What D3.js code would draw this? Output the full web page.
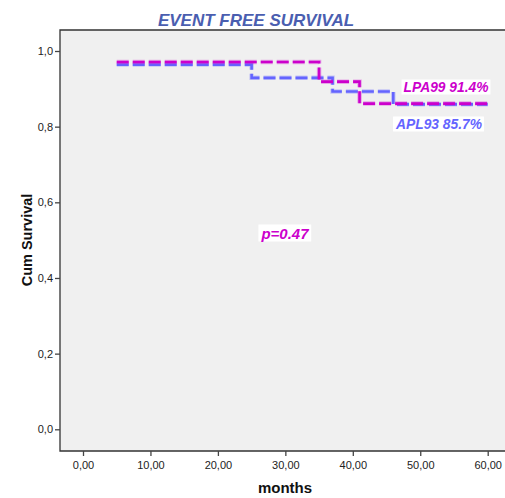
<!DOCTYPE html>
<html><head><meta charset="utf-8">
<script src="https://cdn.jsdelivr.net/npm/d3@7"></script>
<style>body{margin:0;background:#fff}svg{display:block}</style>
</head><body>
<svg id="c" width="505" height="498"></svg>
<script>
const title = "EVENT FREE SURVIVAL";
const xTicks = [0, 10, 20, 30, 40, 50, 60];
const yTicks = [0, 0.2, 0.4, 0.6, 0.8, 1.0];
const seriesNames = ["APL93", "LPA99"];
const seriesColors = ["#6464ff", "#cc00cc"];
const seriesLabels = ["APL93 85.7%", "LPA99 91.4%"];
// step points: [month, cumulative survival]
const apl93 = [[5, 0.964], [25, 0.929], [37, 0.893], [46, 0.859], [60, 0.859]];
const lpa99 = [[5, 0.971], [35, 0.919], [41, 0.861], [60, 0.861]];
const pText = "p=0.47";

const svg = d3.select("#c");
const L = 60, T = 30, R = 505, B = 451;
const x = d3.scaleLinear().domain([0, 60]).range([83, 487.7]);
const y = d3.scaleLinear().domain([0, 1]).range([429.3, 51]);
const font = "Arial, 'Liberation Sans', sans-serif";

svg.append("rect").attr("x", L).attr("y", T).attr("width", R - L).attr("height", B - T).attr("fill", "#f0f0f0");
svg.append("path").attr("d", `M${R},${T}H${L}V${B}H${R}`).attr("fill", "none").attr("stroke", "#333").attr("stroke-width", 1.3);

const xAxis = svg.append("g").attr("transform", `translate(0,${B})`)
  .call(d3.axisBottom(x).tickValues(xTicks).tickSize(5).tickPadding(5).tickFormat(d => d3.format(".2f")(d).replace(".", ",")));
const yAxis = svg.append("g").attr("transform", `translate(${L},0)`)
  .call(d3.axisLeft(y).tickValues(yTicks).tickSize(5).tickPadding(2).tickFormat(d => d3.format(".1f")(d).replace(".", ",")));
[xAxis, yAxis].forEach(a => {
  a.select(".domain").remove();
  a.selectAll("line").attr("stroke", "#444").attr("stroke-width", 1.3);
  a.selectAll("text").attr("fill", "#222").style("font-family", font).style("font-size", "11px");
});

const line = d3.line().x(d => x(d[0])).y(d => y(d[1])).curve(d3.curveStepAfter);
[apl93, lpa99].forEach((data, i) => {
  svg.append("path").datum(data).attr("d", line).attr("fill", "none")
    .attr("stroke", seriesColors[i]).attr("stroke-opacity", 0.3).attr("stroke-width", 4.5)
    .attr("stroke-dasharray", "12,4");
  svg.append("path").datum(data).attr("d", line).attr("fill", "none")
    .attr("stroke", seriesColors[i]).attr("stroke-width", 2.6)
    .attr("stroke-dasharray", "12,4");
});

function boxLabel(txt, cx, by, color, size) {
  const t = svg.append("text").attr("x", cx).attr("y", by).attr("text-anchor", "middle")
    .attr("fill", color).style("font-family", font).style("font-weight", "bold")
    .style("font-style", "italic").style("font-size", size + "px").text(txt);
  const bb = t.node().getBBox();
  svg.insert("rect", () => t.node()).attr("x", bb.x - 2).attr("y", bb.y).attr("width", bb.width + 4)
    .attr("height", bb.height).attr("fill", "#fff");
}
boxLabel(seriesLabels[1], 446, 91.5, seriesColors[1], 13.8);
boxLabel(seriesLabels[0], 439, 128.5, seriesColors[0], 13.8);
boxLabel(pText, 285, 238.5, "#cc00cc", 15);

svg.append("text").attr("x", 256).attr("y", 26).attr("text-anchor", "middle")
  .attr("fill", "#4a5eb0").style("font-family", font).style("font-weight", "bold")
  .style("font-style", "italic").style("font-size", "17px").text(title);
svg.append("text").attr("x", 285).attr("y", 493).attr("text-anchor", "middle")
  .attr("fill", "#111").style("font-family", font).style("font-weight", "bold")
  .style("font-size", "15px").text("months");
svg.append("text").attr("transform", "translate(32,240) rotate(-90)").attr("text-anchor", "middle")
  .attr("fill", "#111").style("font-family", font).style("font-weight", "bold")
  .style("font-size", "14.5px").text("Cum Survival");
</script>
</body></html>
